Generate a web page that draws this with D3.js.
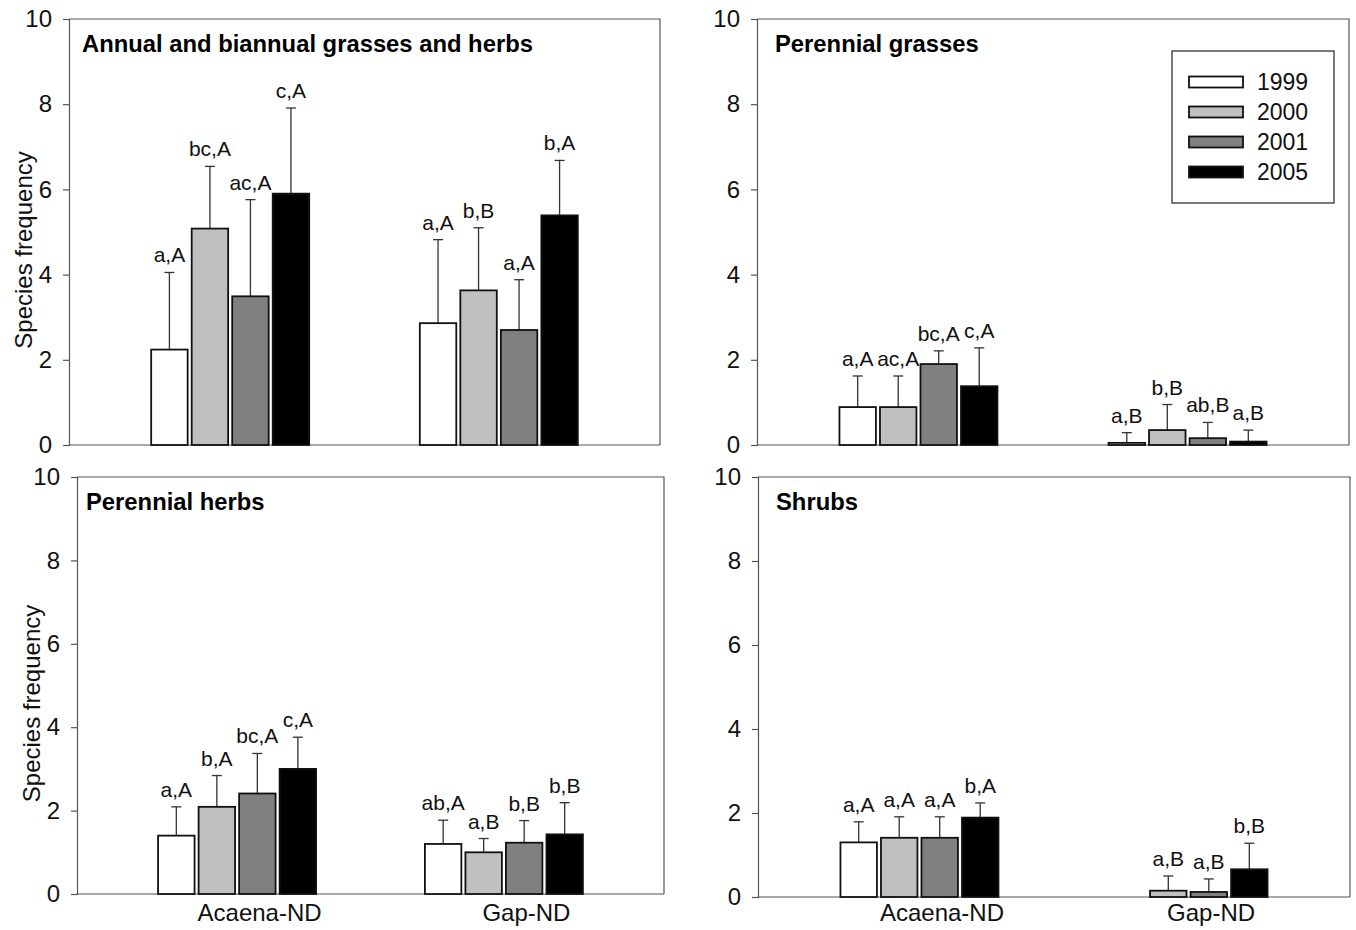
<!DOCTYPE html>
<html>
<head>
<meta charset="utf-8">
<script src="https://cdn.jsdelivr.net/npm/d3@7/dist/d3.min.js"></script>
<style>
  html, body { margin: 0; padding: 0; background: #fff; }
  svg { display: block; font-family: "Liberation Sans", Arial, sans-serif; }
</style>
</head>
<body>
<svg id="chart" width="1356" height="930"></svg>
<script>
// ---------------- DATA ----------------
const years = ["1999", "2000", "2001", "2005"];
const sites = ["Acaena-ND", "Gap-ND"];
const yTicks = [0, 2, 4, 6, 8, 10];
const panelTitles = ["Annual and biannual grasses and herbs", "Perennial grasses", "Perennial herbs", "Shrubs"];
const yAxisTitle = "Species frequency";

// means [site][year]
const annualMeans = [[2.24, 5.08, 3.49, 5.90], [2.86, 3.63, 2.70, 5.39]];
const annualSE    = [[1.81, 1.46, 2.27, 2.01], [1.96, 1.47, 1.18, 1.29]];
const annualSig   = [["a,A", "bc,A", "ac,A", "c,A"], ["a,A", "b,B", "a,A", "b,A"]];

const grassMeans = [[0.89, 0.89, 1.90, 1.38], [0.05, 0.35, 0.16, 0.08]];
const grassSE    = [[0.73, 0.73, 0.31, 0.90], [0.24, 0.60, 0.37, 0.27]];
const grassSig   = [["a,A", "ac,A", "bc,A", "c,A"], ["a,B", "b,B", "ab,B", "a,B"]];

const herbMeans = [[1.40, 2.09, 2.41, 3.00], [1.20, 1.00, 1.23, 1.43]];
const herbSE    = [[0.69, 0.75, 0.96, 0.76], [0.57, 0.33, 0.53, 0.76]];
const herbSig   = [["a,A", "b,A", "bc,A", "c,A"], ["ab,A", "a,B", "b,B", "b,B"]];

const shrubMeans = [[1.30, 1.41, 1.41, 1.89], [null, 0.15, 0.12, 0.66]];
const shrubSE    = [[0.49, 0.50, 0.50, 0.35], [null, 0.35, 0.31, 0.62]];
const shrubSig   = [["a,A", "a,A", "a,A", "b,A"], ["", "a,B", "a,B", "b,B"]];

const yearColors = ["#ffffff", "#c0c0c0", "#808080", "#000000"];

// ---------------- LAYOUT ----------------
const panels = [
  { title: panelTitles[0], means: annualMeans, se: annualSE, sig: annualSig,
    box: { l: 69, r: 660, t: 19, b: 445 }, titleDx: 13, xLabels: false, yTitle: true, legend: false },
  { title: panelTitles[1], means: grassMeans, se: grassSE, sig: grassSig,
    box: { l: 757, r: 1349, t: 19, b: 445 }, titleDx: 18, xLabels: false, yTitle: false, legend: true },
  { title: panelTitles[2], means: herbMeans, se: herbSE, sig: herbSig,
    box: { l: 77, r: 664, t: 477, b: 894 }, titleDx: 9, xLabels: true, yTitle: true, legend: false },
  { title: panelTitles[3], means: shrubMeans, se: shrubSE, sig: shrubSig,
    box: { l: 758, r: 1350, t: 477, b: 897 }, titleDx: 18, xLabels: true, yTitle: false, legend: false }
];

const svg = d3.select("#chart");
const axisColor = "#555";
const FONT = "Liberation Sans, Arial, sans-serif";
const xLabelTop = 904; // shared top of the category labels

panels.forEach(p => {
  const b = p.box;
  const g = svg.append("g");

  const y = d3.scaleLinear().domain([0, 10]).range([b.b, b.t]);
  const x = d3.scalePoint().domain(sites).range([b.l, b.r]).padding(0.6);
  const xYear = d3.scaleBand().domain(years).range([-79, 79]).paddingInner(0.1);

  // frame (top and right)
  g.append("path")
    .attr("d", `M${b.l},${b.t}H${b.r}V${b.b}`)
    .attr("fill", "none").attr("stroke", axisColor).attr("stroke-width", 1.2);

  // y axis
  const yAxis = g.append("g")
    .attr("transform", `translate(${b.l},0)`)
    .call(d3.axisLeft(y).tickValues(yTicks).tickSize(6).tickPadding(11).tickFormat(d3.format("d")));
  yAxis.select(".domain").attr("stroke", axisColor).attr("stroke-width", 1.2);
  yAxis.selectAll(".tick line").attr("stroke", axisColor).attr("stroke-width", 1.2);
  yAxis.selectAll(".tick text").attr("font-size", 24).attr("fill", "#111")
    .attr("font-family", FONT);

  // x axis baseline
  const xAxis = g.append("g")
    .attr("transform", `translate(0,${b.b})`)
    .call(d3.axisBottom(x).tickSize(0).tickPadding(xLabelTop - b.b).tickFormat(p.xLabels ? (d => d) : (() => "")));
  xAxis.select(".domain").attr("d", `M${b.l},0H${b.r}`).attr("stroke", axisColor).attr("stroke-width", 1.2);
  xAxis.selectAll(".tick text").attr("font-size", 24).attr("fill", "#111")
    .attr("dx", 22)
    .attr("font-family", FONT);

  // panel title
  g.append("text")
    .attr("x", b.l + p.titleDx).attr("y", b.t + 33)
    .attr("font-size", 23.8).attr("font-weight", "bold").attr("fill", "#000")
    .text(p.title);

  // y axis title
  if (p.yTitle) {
    g.append("text")
      .attr("transform", `translate(${b.l - 37},${(b.t + b.b) / 2 + 18}) rotate(-90)`)
      .attr("text-anchor", "middle")
      .attr("font-size", 24).attr("fill", "#111")
      .text(yAxisTitle);
  }

  // bars
  const data = [];
  sites.forEach((s, si) => years.forEach((yr, yi) => {
    const m = p.means[si][yi];
    if (m === null) return;
    data.push({ site: s, year: yr, yi, mean: m, se: p.se[si][yi], sig: p.sig[si][yi] });
  }));

  const bx = d => x(d.site) + xYear(d.year);
  const bw = xYear.bandwidth();

  // error bars (upper only)
  const eb = g.append("g");
  eb.selectAll("line.v").data(data).join("line")
    .attr("x1", d => bx(d) + bw / 2).attr("x2", d => bx(d) + bw / 2)
    .attr("y1", d => y(d.mean)).attr("y2", d => y(d.mean + d.se))
    .attr("stroke", "#333").attr("stroke-width", 1.3);
  eb.selectAll("line.c").data(data).join("line")
    .attr("x1", d => bx(d) + bw / 2 - 5).attr("x2", d => bx(d) + bw / 2 + 5)
    .attr("y1", d => y(d.mean + d.se)).attr("y2", d => y(d.mean + d.se))
    .attr("stroke", "#333").attr("stroke-width", 1.3);

  g.append("g").selectAll("rect").data(data).join("rect")
    .attr("x", bx).attr("width", bw)
    .attr("y", d => y(d.mean)).attr("height", d => y(0) - y(d.mean))
    .attr("fill", d => yearColors[d.yi])
    .attr("stroke", "#111").attr("stroke-width", 1.8);

  // significance letters
  g.append("g").selectAll("text").data(data).join("text")
    .attr("x", d => bx(d) + bw / 2)
    .attr("y", d => y(d.mean + d.se) - 10)
    .attr("text-anchor", "middle")
    .attr("font-size", 21).attr("fill", "#111")
    .text(d => d.sig);

  // legend
  if (p.legend) {
    const lg = g.append("g");
    const lx = 1172, ly = 51, lw = 162, lh = 152;
    lg.append("rect").attr("x", lx).attr("y", ly).attr("width", lw).attr("height", lh)
      .attr("fill", "#fff").attr("stroke", "#333").attr("stroke-width", 1.3);
    const rowY = d3.scalePoint().domain(years).range([ly + 31, ly + 121]);
    years.forEach((yr, i) => {
      lg.append("rect").attr("x", lx + 17).attr("y", rowY(yr) - 5.5)
        .attr("width", 54).attr("height", 11)
        .attr("fill", yearColors[i]).attr("stroke", "#111").attr("stroke-width", 1.8);
      lg.append("text").attr("x", lx + 85).attr("y", rowY(yr) + 8)
        .attr("font-size", 23).attr("fill", "#111").text(yr);
    });
  }
});
</script>
</body>
</html>
